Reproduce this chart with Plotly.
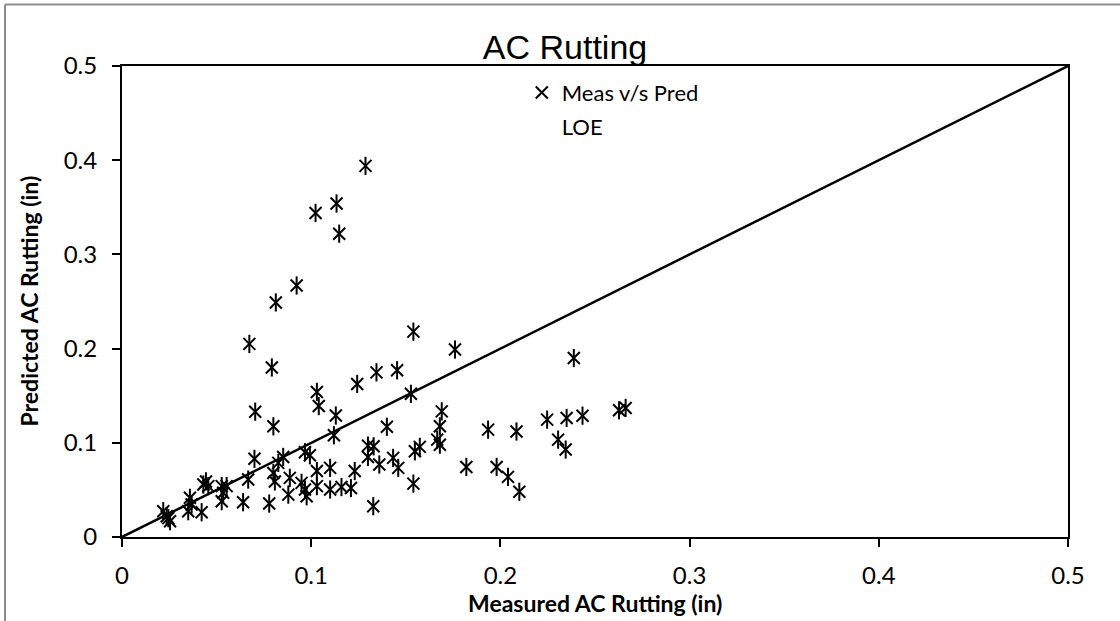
import plotly.graph_objects as go

measured = [0.0673, 0.0792, 0.103, 0.104, 0.0704, 0.080, 0.070, 0.0852, 0.0826, 0.0967,
            0.0993, 0.103, 0.080, 0.0808, 0.0887, 0.0949, 0.0967, 0.0976, 0.0879, 0.0778,
            0.103, 0.0667, 0.064, 0.0444, 0.0456, 0.0430, 0.0527, 0.0553, 0.0535, 0.0527,
            0.0359, 0.0368, 0.0350, 0.0421, 0.0218, 0.0236, 0.0254, 0.0245, 0.154, 0.176,
            0.113, 0.1243, 0.1345, 0.1454, 0.1527, 0.112, 0.140, 0.169, 0.168, 0.1666,
            0.168, 0.1935, 0.130, 0.133, 0.130, 0.1548, 0.1574, 0.1433, 0.136, 0.146,
            0.123, 0.110, 0.154, 0.182, 0.198, 0.110, 0.116, 0.121, 0.1328, 0.2388,
            0.2085, 0.2247, 0.235, 0.2434, 0.2627, 0.2662, 0.2305, 0.2345, 0.204, 0.210,
            0.1287, 0.1134, 0.1023, 0.1148, 0.0923, 0.0813]
predicted = [0.205, 0.180, 0.154, 0.139, 0.133, 0.1175, 0.083, 0.085, 0.0787, 0.090,
             0.0868, 0.070, 0.068, 0.059, 0.0628, 0.0575, 0.0504, 0.0433, 0.045, 0.0355,
             0.054, 0.061, 0.0369, 0.059, 0.054, 0.0557, 0.054, 0.054, 0.047, 0.038,
             0.0416, 0.0345, 0.0274, 0.0263, 0.0274, 0.022, 0.0168, 0.020, 0.218, 0.199,
             0.129, 0.1625, 0.1748, 0.177, 0.152, 0.108, 0.117, 0.1334, 0.1175, 0.1034,
             0.098, 0.114, 0.097, 0.0963, 0.085, 0.091, 0.0957, 0.084, 0.077, 0.0734,
             0.070, 0.0734, 0.0567, 0.0744, 0.0744, 0.0504, 0.053, 0.052, 0.0327, 0.190,
             0.112, 0.1246, 0.1264, 0.1288, 0.1345, 0.137, 0.1034, 0.0928, 0.0638, 0.048,
             0.394, 0.354, 0.344, 0.322, 0.267, 0.249]

loe_x = [0, 0.5]
loe_y = [0, 0.5]
tick_vals = [0, 0.1, 0.2, 0.3, 0.4, 0.5]
tick_text = ["0", "0.1", "0.2", "0.3", "0.4", "0.5"]

TICK_FONT = dict(family="Lato", size=24, color="black")

fig = go.Figure()
fig.add_trace(go.Scatter(
    x=loe_x, y=loe_y, mode="lines", line=dict(color="black", width=2.5),
    showlegend=False, hoverinfo="skip"))
fig.add_trace(go.Scatter(
    x=measured, y=predicted, mode="markers", name="Meas v/s Pred",
    marker=dict(symbol="x-thin-open", size=12, line=dict(color="black", width=2), color="black"),
    legendgroup="a"))
fig.add_trace(go.Scatter(
    x=measured, y=predicted, mode="markers", showlegend=False,
    marker=dict(symbol="line-ns-open", size=13, line=dict(color="black", width=2), color="black"),
    legendgroup="a"))
fig.add_trace(go.Scatter(
    x=[None], y=[None], mode="lines", name="LOE", line=dict(color="rgba(0,0,0,0)", width=0),
    legendgroup="b"))

fig.update_layout(
    width=1120, height=621,
    margin=dict(l=122, r=52, t=66, b=84),
    paper_bgcolor="white", plot_bgcolor="white",
    title=dict(text="AC Rutting", x=565 / 1120, xanchor="center",
               y=1 - 47 / 621, yanchor="middle",
               font=dict(family="Liberation Sans", size=34, color="black")),
    legend=dict(x=0.4226, y=0.988, xanchor="left", yanchor="top",
                font=dict(family="Lato", size=22, color="black"),
                bgcolor="rgba(0,0,0,0)", tracegroupgap=2, traceorder="grouped"),
    xaxis=dict(range=[0, 0.5], tickvals=tick_vals, ticktext=tick_text,
               showgrid=False, zeroline=False, showline=True, linecolor="black",
               linewidth=2, mirror=True, ticks="outside", ticklen=8, tickwidth=1.5,
               tickcolor="black", tickfont=TICK_FONT, ticklabelstandoff=8),
    yaxis=dict(range=[0, 0.5], tickvals=tick_vals, ticktext=tick_text,
               showgrid=False, zeroline=False, showline=True, linecolor="black",
               linewidth=2, mirror=True, ticks="outside", ticklen=8, tickwidth=1.5,
               tickcolor="black", tickfont=TICK_FONT, ticklabelstandoff=10),
    annotations=[
        dict(text="<b>Measured AC Rutting (in)</b>", xref="paper", yref="paper",
             x=0.5, y=(537.5 - 604) / 471.5, xanchor="center", yanchor="middle",
             showarrow=False, font=dict(family="Lato", size=23, color="black")),
        dict(text="<b>Predicted AC Rutting (in)</b>", xref="paper", yref="paper",
             x=(28 - 122) / 946, y=0.5, xanchor="center", yanchor="middle",
             textangle=-90, showarrow=False, font=dict(family="Lato", size=23, color="black")),
    ],
    shapes=[
        dict(type="line", xref="paper", yref="paper", x0=(5 - 122) / 946, x1=(1120 - 122) / 946,
             y0=(537.5 - 5) / 471, y1=(537.5 - 5) / 471, line=dict(color="#8c8c8c", width=2)),
        dict(type="line", xref="paper", yref="paper", x0=(5 - 122) / 946, x1=(5 - 122) / 946,
             y0=(537.5 - 5) / 471, y1=(537.5 - 625) / 471, line=dict(color="#8c8c8c", width=2)),
    ],
)

fig.write_html("out.html")
